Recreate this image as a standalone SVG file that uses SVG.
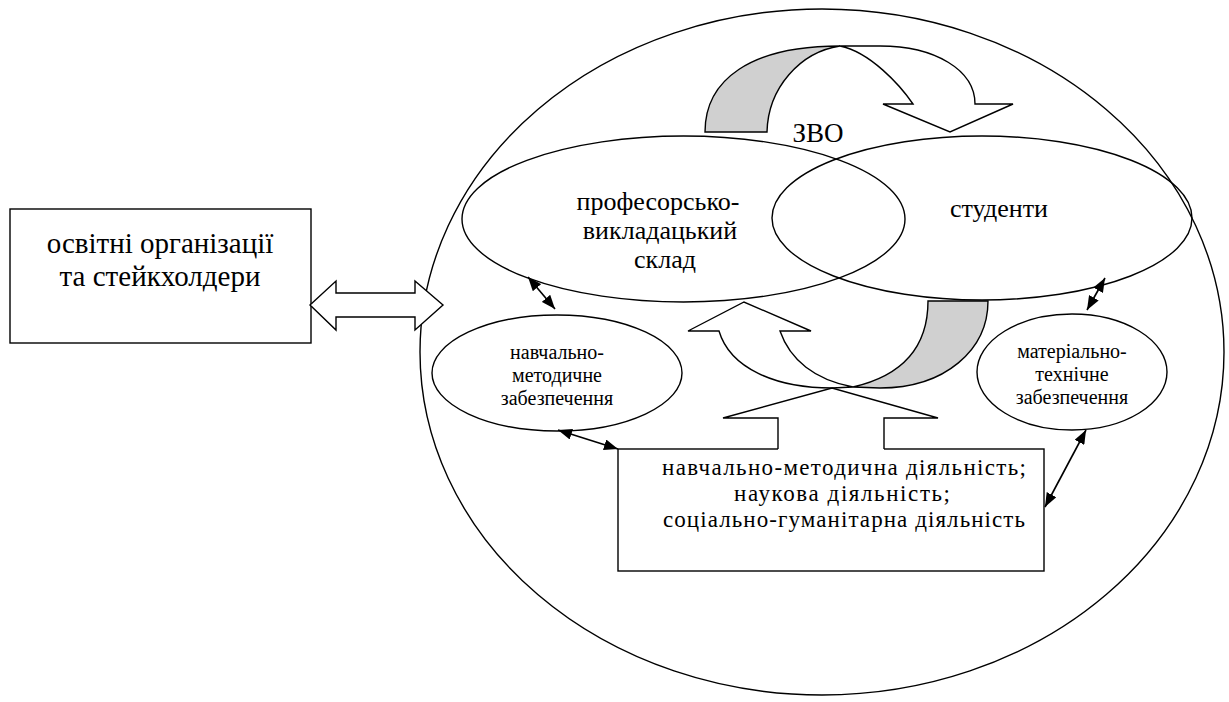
<svg xmlns="http://www.w3.org/2000/svg" width="1229" height="702" viewBox="0 0 1229 702">
<defs>
<style>
.ln{fill:none;stroke:#000;stroke-width:1.4}
.wf{fill:#fff;stroke:#000;stroke-width:1.4;stroke-linejoin:miter}
.gf{fill:#d0d0d0;stroke:#000;stroke-width:1.4}
.t{font-family:'Liberation Serif','DejaVu Serif',serif;fill:#000;text-anchor:middle}
.con{fill:none;stroke:#000;stroke-width:1.6;marker-start:url(#ah);marker-end:url(#ah)}
</style>
<marker id="ah" viewBox="0 0 14 11" refX="14" refY="5.5" markerWidth="14" markerHeight="11" orient="auto-start-reverse" markerUnits="userSpaceOnUse"><path d="M0,0 L14,5.5 L0,11 Z" fill="#000"/></marker>
</defs>
<rect width="1229" height="702" fill="#fff"/>
<g id="zvo-circle"><ellipse class="ln" cx="822" cy="352" rx="402" ry="343"/></g>
<g id="orgs"><rect class="ln" x="10" y="209" width="301" height="134"/>
<text class="t" font-size="29" x="160" y="253">освітні організації</text>
<text class="t" font-size="29" x="160" y="286">та стейкхолдери</text></g>
<g id="dbl-arrow"><path class="wf" d="M310,305 L336,281 L336,293 L415,293 L415,281 L443,305 L415,330 L415,317 L336,317 L336,330 Z"/></g>
<g id="zvo-label"><text class="t" font-size="27" x="818" y="142">ЗВО</text></g>
<g id="top-arrow">
<path class="gf" d="M705,132 C705,80 750,46 840,46 C800,52 768,88 767,132 Z"/>
<path class="wf" d="M840,46 L880,46 C935,46 975,70 975,104 L1013,104 L950,132 L883,104 L913,104 C900,85 870,52 840,46 Z"/>
</g>
<g id="staff"><ellipse class="ln" cx="683.5" cy="219" rx="221.5" ry="83"/>
<text class="t" font-size="26" x="658" y="210">професорсько-</text>
<text class="t" font-size="26" x="660" y="239">викладацький</text>
<text class="t" font-size="26" x="665" y="268">склад</text></g>
<g id="students"><ellipse class="ln" cx="982" cy="218" rx="210" ry="82"/>
<text class="t" font-size="26" x="999" y="217">студенти</text></g>
<g id="bottom-arrow">
<path class="gf" d="M928,301 L988,301 C988,350 945,388 880,388 L853,387 C905,375 928,345 928,301 Z"/>
<path class="wf" d="M688,331 L744,302 L811,331 L780,331 C790,360 815,380 853,387 L832,388 C775,388 730,368 719,331 Z"/>
</g>
<g id="activity">
<rect class="wf" x="618" y="449" width="426" height="122"/>
<path d="M778,451 L778,418 L723,418 L832,388 L938,418 L884,418 L884,451 Z" fill="#fff" stroke="none"/>
<path class="ln" d="M778,449 L778,418 L723,418 L832,388 L938,418 L884,418 L884,449"/>
<text class="t" font-size="23" x="844" y="475" textLength="364" lengthAdjust="spacing">навчально-методична діяльність;</text>
<text class="t" font-size="23" x="842" y="501" textLength="216" lengthAdjust="spacing">наукова діяльність;</text>
<text class="t" font-size="23" x="844" y="527" textLength="362" lengthAdjust="spacing">соціально-гуманітарна діяльність</text>
</g>
<g id="method"><ellipse class="ln" cx="557" cy="373" rx="125" ry="58"/>
<text class="t" font-size="20" x="557" y="359">навчально-</text>
<text class="t" font-size="20" x="557" y="382">методичне</text>
<text class="t" font-size="20" x="557" y="405">забезпечення</text></g>
<g id="material"><ellipse class="ln" cx="1072" cy="372" rx="95" ry="58"/>
<text class="t" font-size="20" x="1072" y="358">матеріально-</text>
<text class="t" font-size="20" x="1072" y="381">технічне</text>
<text class="t" font-size="20" x="1072" y="404">забезпечення</text></g>
<g id="connectors">
<line class="con" x1="528" y1="277" x2="555" y2="309"/>
<line class="con" x1="558" y1="430" x2="618" y2="449"/>
<line class="con" x1="1105" y1="278" x2="1087" y2="310"/>
<line class="con" x1="1086" y1="430" x2="1045" y2="507"/>
</g>
</svg>
